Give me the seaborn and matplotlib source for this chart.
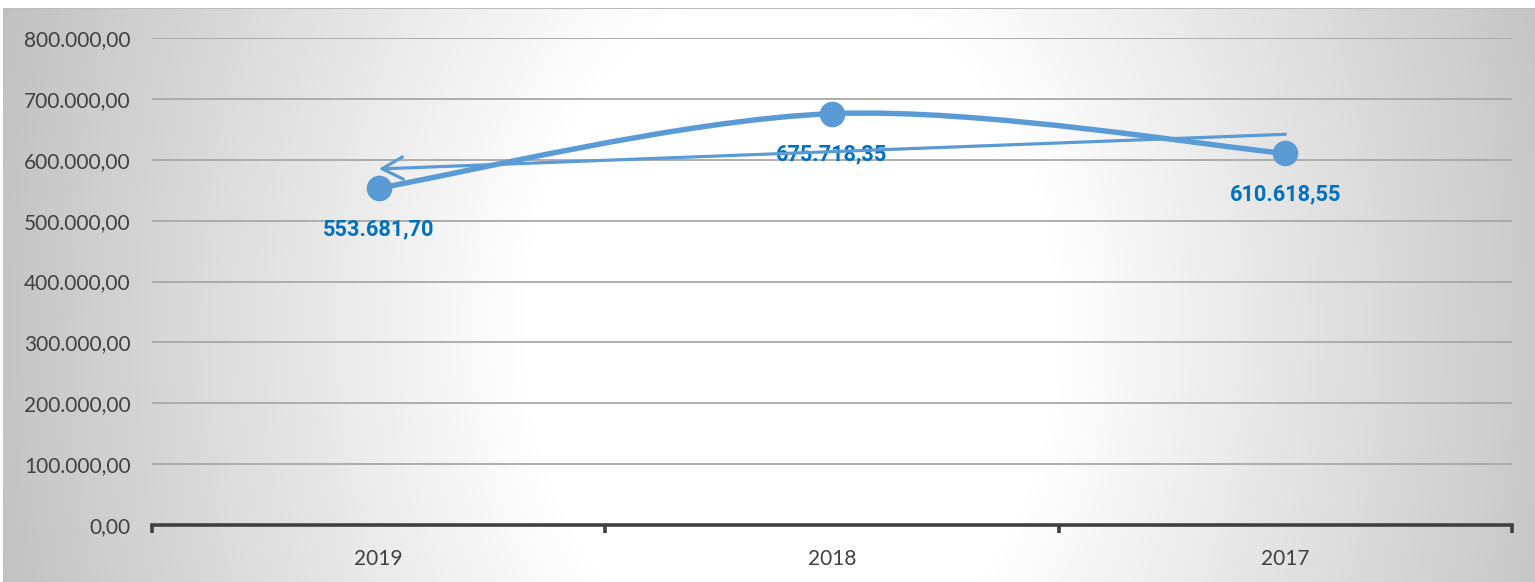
import numpy as np
import pandas as pd
import matplotlib
matplotlib.use("Agg")
import matplotlib.pyplot as plt
import seaborn as sns
from matplotlib.path import Path
from matplotlib.patches import PathPatch
from matplotlib.ticker import FuncFormatter, FixedLocator
from matplotlib import font_manager as fm

# ---- data ----
years = ["2019", "2018", "2017"]
values = [553681.70, 675718.35, 610618.55]
y_ticks = [0, 100000, 200000, 300000, 400000, 500000, 600000, 700000, 800000]

def br_fmt(v):
    s = f"{v:,.2f}"
    return s.replace(",", "X").replace(".", ",").replace("X", ".")

sns.set_theme(style="white")
plt.rcParams['font.family'] = ['Lato', 'DejaVu Sans']

# pick a family that really has a bold face for the data labels
bold_family = "DejaVu Sans"
for fam in ["Roboto", "Liberation Sans", "Noto Sans", "Open Sans"]:
    names = [f for f in fm.fontManager.ttflist if f.name == fam and
             (f.weight in (600, 700, 800, "bold", "semibold", "heavy"))]
    if names:
        bold_family = fam
        break

W, H, DPI = 1535, 582, 100
fig = plt.figure(figsize=(W / DPI, H / DPI), dpi=DPI)

# background gradient (chart area fill)
bg = fig.add_axes([0, 0, 1, 1])
yy, xx = np.mgrid[0:H, 0:W]
d = np.sqrt(((xx - 790) / 760.0) ** 2 + ((yy - 330) / 1000.0) ** 2)
g = np.clip(255 - (d - 0.35) / 0.65 * 55, 190, 255) / 255.0
img = np.dstack([g, g, g])
img[:8, :, :] = 1.0
img[:, :3, :] = 1.0
img[8, 3:, :] = 0.74
bg.imshow(img, aspect='auto', interpolation='bilinear', extent=(0, W, H, 0))
bg.set_axis_off()
bg.set_zorder(0)

ax = fig.add_axes([152 / W, 1 - 525 / H, (1512 - 152) / W, (525 - 38) / H])
ax.set_zorder(1)
ax.set_facecolor("none")

df = pd.DataFrame({"x": np.arange(len(years)), "year": years, "value": values})
blue = "#5B9BD5"

# smoothed line (Excel-style Bezier through the points)
P = np.column_stack([df["x"].values, df["value"].values]).astype(float)
n = len(P)
verts = [P[0]]
codes = [Path.MOVETO]
for i in range(n - 1):
    p_prev = P[max(i - 1, 0)]
    p_next2 = P[min(i + 2, n - 1)]
    c1 = P[i] + (P[i + 1] - p_prev) / 6.0
    c2 = P[i + 1] - (p_next2 - P[i]) / 6.0
    verts += [c1, c2, P[i + 1]]
    codes += [Path.CURVE4] * 3
ax.add_patch(PathPatch(Path(verts, codes), facecolor="none", edgecolor=blue,
                       lw=3.9, capstyle="round", zorder=3))

sns.scatterplot(data=df, x="x", y="value", ax=ax, s=340, color=blue,
                edgecolor=blue, linewidth=0, zorder=4, legend=False)

# data labels
lbl_size = 13.5 if bold_family == "DejaVu Sans" else 15.7
for xi, v in zip(df["x"], df["value"]):
    ax.annotate(br_fmt(v), xy=(xi, v), xytext=(0, -29.5), textcoords="offset points",
                ha="center", va="center", fontsize=lbl_size, fontweight="bold",
                family=[bold_family, "DejaVu Sans"], color="#0070C0", zorder=5)

# linear trendline with arrow toward the first category
coef = np.polyfit(df["x"].values, df["value"].values, 1)
t0 = np.polyval(coef, df["x"].iloc[0])
t2 = np.polyval(coef, df["x"].iloc[-1])
ax.annotate("", xy=(df["x"].iloc[0], t0), xytext=(df["x"].iloc[-1], t2),
            arrowprops=dict(arrowstyle="->,head_length=0.75,head_width=0.4",
                            color=blue, lw=2.3, shrinkA=0, shrinkB=0,
                            mutation_scale=20, capstyle="round"),
            zorder=6)

ax.set_xlim(-0.5, len(years) - 0.5)
ax.set_ylim(0, 800000)
ax.yaxis.set_major_locator(FixedLocator(y_ticks))
ax.yaxis.set_major_formatter(FuncFormatter(lambda v, p: br_fmt(v)))
ax.set_xticks(df["x"].values)
ax.set_xticklabels(years)
ax.set_xticks(np.arange(-0.5, len(years)), minor=True)

for yt in y_ticks[1:]:
    ax.axhline(yt, color="#a8a8a8", lw=1.3, zorder=1)

for s in ["top", "right", "left"]:
    ax.spines[s].set_visible(False)
ax.spines["bottom"].set_color("#404040")
ax.spines["bottom"].set_linewidth(2.6)
ax.spines["bottom"].set_zorder(2)

ax.tick_params(axis="y", left=False, length=0, pad=15.5, labelsize=15, labelcolor="#404040")
ax.tick_params(axis="x", which="major", bottom=False, length=0, pad=17.5, labelsize=15,
               labelcolor="#404040")
ax.tick_params(axis="x", which="minor", bottom=True, length=6, width=2.6, color="#404040",
               direction="out")
ax.set_xlabel("")
ax.set_ylabel("")
ax.grid(False)

fig.savefig("out.png", dpi=DPI)
